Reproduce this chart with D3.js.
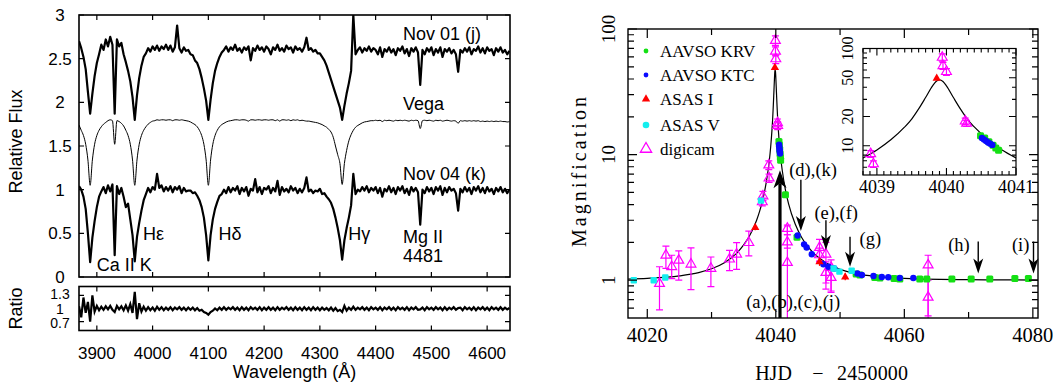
<!DOCTYPE html>
<html>
<head>
<meta charset="utf-8">
<script src="https://cdn.jsdelivr.net/npm/d3@7"></script>
<style>
  body { margin: 0; background: #fff; }
  svg { display: block; }
  .sans { font-family: 'Liberation Sans', Arial, Helvetica, sans-serif; }
  .serif { font-family: 'Liberation Serif', 'Times New Roman', serif; }
</style>
</head>
<body>
<svg id="chart" width="1053" height="383"></svg>
<script>
// ---------------- left panel: spectra ----------------
const waveStart = 3868; // first sample, Å
const waveStep = 4;     // sampling, Å

const nov01Flux = [
  2.70,2.62,2.52,2.38,2.12,1.87,2.10,2.30,2.45,2.55,
  2.66,2.60,2.72,2.64,2.75,2.66,1.87,2.72,2.64,2.68,
  2.55,2.46,2.36,2.24,2.06,1.80,2.08,2.28,2.42,2.52,
  2.56,2.62,2.58,2.64,2.60,2.65,2.59,2.64,2.61,2.66,
  2.60,2.65,2.58,2.63,2.88,2.62,2.57,2.63,2.59,2.60,
  2.55,2.54,2.48,2.45,2.38,2.28,2.16,2.02,1.80,2.03,
  2.22,2.36,2.45,2.52,2.57,2.60,2.64,2.58,2.63,2.60,
  2.66,2.59,2.62,2.57,2.63,2.60,2.64,2.48,2.62,2.59,
  2.65,2.60,2.63,2.58,2.64,2.61,2.55,2.63,2.60,2.66,
  2.59,2.62,2.58,2.65,2.61,2.63,2.57,2.64,2.60,2.62,
  2.58,2.63,2.74,2.60,2.62,2.58,2.60,2.56,2.56,2.52,
  2.48,2.42,2.34,2.26,2.18,2.10,2.02,1.94,1.80,1.96,
  2.10,2.22,2.36,3.00,2.55,2.60,2.63,2.57,2.62,2.59,
  2.64,2.58,2.62,2.60,2.55,2.63,2.52,2.61,2.58,2.63,
  2.57,2.61,2.54,2.62,2.59,2.64,2.56,2.61,2.53,2.62,
  2.58,2.63,2.57,2.20,2.60,2.55,2.62,2.58,2.63,2.54,
  2.61,2.57,2.63,2.52,2.61,2.58,2.62,2.56,2.60,2.55,
  2.35,2.60,2.57,2.62,2.58,2.63,2.55,2.61,2.59,2.64,
  2.57,2.62,2.56,2.63,2.59,2.61,2.54,2.62,2.58,2.63,
  2.57,2.60,2.55,2.59
];

const vegaFlux = [
  1.74,1.68,1.62,1.52,1.34,1.05,1.34,1.52,1.62,1.68,
  1.72,1.75,1.77,1.79,1.80,1.79,1.52,1.79,1.78,1.76,
  1.73,1.68,1.62,1.52,1.34,1.05,1.34,1.52,1.62,1.68,
  1.72,1.75,1.77,1.785,1.79,1.80,1.795,1.80,1.80,1.795,
  1.80,1.80,1.79,1.80,1.80,1.795,1.80,1.795,1.79,1.785,
  1.775,1.76,1.745,1.72,1.68,1.62,1.52,1.34,1.05,1.34,
  1.52,1.62,1.68,1.72,1.745,1.76,1.775,1.785,1.79,1.795,
  1.80,1.80,1.795,1.80,1.80,1.795,1.785,1.80,1.80,1.795,
  1.80,1.80,1.795,1.80,1.80,1.795,1.80,1.80,1.79,1.80,
  1.785,1.80,1.80,1.795,1.80,1.79,1.80,1.795,1.80,1.79,
  1.795,1.79,1.785,1.785,1.78,1.775,1.77,1.765,1.755,1.745,
  1.73,1.715,1.69,1.66,1.60,1.50,1.40,1.30,1.06,1.30,
  1.45,1.56,1.63,1.68,1.715,1.735,1.75,1.765,1.775,1.78,
  1.785,1.79,1.79,1.795,1.79,1.795,1.78,1.795,1.79,1.795,
  1.79,1.785,1.795,1.79,1.795,1.79,1.795,1.79,1.785,1.795,
  1.79,1.795,1.79,1.70,1.79,1.795,1.79,1.795,1.79,1.785,
  1.795,1.79,1.795,1.785,1.79,1.795,1.79,1.785,1.79,1.785,
  1.76,1.79,1.785,1.79,1.785,1.79,1.785,1.79,1.785,1.79,
  1.78,1.785,1.78,1.785,1.78,1.785,1.78,1.785,1.78,1.785,
  1.78,1.78,1.775,1.78
];

const nov04Flux = [
  1.04,1.00,0.92,0.78,0.50,0.17,0.45,0.64,0.80,0.92,
  0.98,1.03,0.96,1.05,0.98,1.06,0.25,1.04,0.95,1.02,
  0.92,0.80,0.84,0.66,0.48,0.18,0.46,0.62,0.76,0.88,
  0.95,1.02,0.97,1.03,1.00,1.18,1.02,1.05,0.98,1.03,
  0.99,1.04,0.97,1.03,1.00,1.04,0.96,1.02,0.98,0.99,
  0.99,0.96,0.97,0.93,0.88,0.80,0.68,0.48,0.19,0.48,
  0.66,0.78,0.86,0.93,0.95,1.00,0.96,1.03,0.97,1.02,
  0.99,1.04,0.95,1.02,0.98,1.03,0.93,1.01,0.99,1.12,
  0.97,1.03,0.95,1.02,1.00,1.04,0.96,1.02,0.98,1.10,
  0.94,1.03,0.98,1.01,0.97,1.04,0.99,1.02,0.96,1.01,
  0.97,1.02,1.14,0.98,1.00,0.96,0.99,0.98,1.01,0.95,
  0.96,0.92,0.89,0.85,0.78,0.68,0.56,0.42,0.20,0.42,
  0.56,0.68,0.82,1.18,0.95,1.00,0.98,1.03,0.99,1.04,
  0.97,1.02,0.99,1.03,0.96,1.02,0.92,1.01,0.98,1.04,
  0.97,1.02,0.95,1.03,0.99,1.04,0.96,1.01,0.94,1.03,
  0.98,1.02,0.97,0.60,1.00,0.96,1.03,0.98,1.02,0.95,
  1.03,0.99,1.04,0.94,1.02,0.97,1.03,0.99,1.01,0.96,
  0.76,1.01,0.97,1.03,0.98,1.02,0.95,1.03,0.99,1.04,
  0.97,1.02,0.96,1.03,0.98,1.01,0.95,1.02,0.98,1.03,
  0.97,1.01,0.96,1.00
];

const ratioFlux = [
  1.05,0.80,1.25,0.90,1.15,0.70,1.30,0.93,1.06,0.96,
  1.04,0.97,1.05,0.98,1.06,0.97,0.92,1.06,0.98,1.05,
  0.96,1.07,0.95,1.10,0.90,1.38,0.76,1.12,0.93,1.04,
  0.95,1.03,0.96,1.02,0.95,1.04,0.97,1.03,0.96,1.02,
  0.97,1.03,0.96,1.02,0.98,1.03,0.97,1.02,0.96,1.02,
  0.97,1.02,0.96,1.01,0.95,0.97,0.92,0.90,0.86,0.92,
  0.95,1.00,0.96,1.02,0.97,1.03,0.97,1.02,0.98,1.03,
  0.97,1.02,0.96,1.03,0.97,1.02,0.96,1.03,0.98,1.02,
  0.97,1.03,0.96,1.02,0.97,1.03,0.97,1.02,0.96,1.03,
  0.97,1.02,0.98,1.03,0.97,1.02,0.96,1.03,0.97,1.02,
  0.96,1.03,0.97,1.02,0.96,1.03,0.97,1.02,0.96,1.02,
  0.97,1.01,0.96,1.02,0.95,1.01,0.94,0.97,0.92,1.06,
  0.95,1.02,0.97,1.04,0.97,1.02,0.98,1.03,0.97,1.02,
  0.96,1.03,0.98,1.02,0.97,1.03,0.96,1.02,0.98,1.03,
  0.97,1.02,0.96,1.03,0.98,1.02,0.97,1.03,0.96,1.02,
  0.98,1.03,0.97,0.98,1.02,0.96,1.03,0.98,1.02,0.97,
  1.03,0.98,1.02,0.96,1.03,0.97,1.02,0.98,1.03,0.97,
  1.01,1.02,0.96,1.03,0.98,1.02,0.97,1.03,0.96,1.02,
  0.98,1.03,0.97,1.02,0.96,1.03,0.98,1.02,0.97,1.03,
  0.97,1.02,0.98,1.01
];

const waveTicks = [3900, 4000, 4100, 4200, 4300, 4400, 4500, 4600];
const fluxTicks = [0, 0.5, 1, 1.5, 2, 2.5, 3];
const ratioTicks = [0.7, 1, 1.3];
const ratioTickLabels = ['0.7', '1', '1.3'];

// annotation text and anchor point (wavelength, flux)
const specLabelText = ['Nov 01 (j)', 'Vega', 'Nov 04 (k)', 'Ca II K', 'Hε', 'Hδ', 'Hγ', 'Mg II', '4481'];
const specLabelWave = [4449, 4449, 4449, 3900, 3983, 4118, 4351, 4449, 4449];
const specLabelFlux = [2.71, 1.91, 1.11, 0.07, 0.42, 0.42, 0.42, 0.386, 0.175];

// ---------------- right panel: light curve ----------------
const modelT = [4017, 4020, 4025, 4028, 4030, 4032, 4034, 4035, 4036, 4037, 4037.5, 4038, 4038.5, 4038.8,
  4039, 4039.2, 4039.4, 4039.5, 4039.6, 4039.7, 4039.8, 4039.85, 4039.9, 4039.95, 4040, 4040.1, 4040.2,
  4040.3, 4040.4, 4040.6, 4040.8, 4041, 4041.5, 4042, 4043, 4044, 4045, 4046, 4048, 4050, 4052, 4055,
  4060, 4070, 4080.8];
const modelA = [1.022, 1.035, 1.082, 1.149, 1.232, 1.378, 1.66, 1.91, 2.30, 2.99, 3.56, 4.43, 5.95, 7.5,
  9.05, 11.5, 15.6, 18.8, 23.9, 31.3, 41.3, 45.8, 47.6, 45.8, 41.3, 31.3, 23.9,
  18.8, 15.6, 11.5, 9.05, 7.5, 5.22, 4.03, 2.81, 2.2, 1.85, 1.62, 1.36, 1.22, 1.14, 1.08,
  1.034, 1.009, 1.003];

const krvT = [4040.49, 4040.55, 4040.61, 4040.67, 4040.71, 4040.75, 4041.5, 4043.3, 4052.5, 4053.1, 4055.4,
  4056.2, 4058.4, 4059.3, 4062.4, 4063.5, 4067.4, 4070.4, 4073.3, 4077.2, 4079.3];
const krvA = [12.7, 12.0, 11.0, 10.1, 9.5, 9.0, 4.8, 2.2, 1.12, 1.10, 1.05,
  1.04, 1.03, 1.02, 1.02, 1.02, 1.02, 1.02, 1.02, 1.03, 1.03];

const ktcT = [4040.51, 4040.54, 4040.57, 4040.60, 4040.63, 4040.66, 4043.4, 4044.4, 4044.8, 4045.6, 4047.4,
  4048.2, 4049.1, 4052.7, 4053.4, 4055.2, 4056.5, 4057.5, 4059.3, 4061.4];
const ktcA = [12.0, 11.6, 11.2, 10.8, 10.5, 10.2, 2.27, 1.93, 1.82, 1.61, 1.34,
  1.28, 1.24, 1.13, 1.10, 1.08, 1.06, 1.055, 1.04, 1.04];

const asasIT = [4036.8, 4039.86, 4046.8, 4050.8];
const asasIA = [2.62, 49.3, 1.40, 1.06];
const asasILo = [2.5, 47, 1.3, 1.0];
const asasIHi = [2.75, 51.5, 1.52, 1.13];

const asasVT = [4017.9, 4021.0, 4022.8, 4037.7, 4049.0, 4049.9, 4051.8];
const asasVA = [1.0, 1.0, 1.05, 4.3, 1.24, 1.17, 1.19];

const digiT = [4021.9, 4022.9, 4023.8, 4024.9, 4026.8, 4029.9, 4032.8, 4033.9, 4035.8, 4037.9, 4038.0,
  4038.91, 4038.95, 4039.94, 4039.95, 4040.0, 4040.27, 4040.29, 4041.8, 4041.8, 4041.8,
  4046.8, 4046.8, 4047.8, 4047.8, 4048.6, 4048.6, 4063.7, 4063.7];
const digiA = [0.94, 1.58, 1.28, 1.44, 1.34, 1.24, 1.47, 1.61, 1.99, 4.2, 4.67,
  8.26, 6.5, 81, 66.5, 57.8, 17.9, 17.0, 2.58, 2.01, 1.38,
  1.82, 1.59, 1.61, 1.15, 1.26, 1.05, 1.32, 0.73];
const digiLo = [0.58, 1.24, 1.03, 1.0, 0.84, 0.89, 1.19, 1.22, 1.56, 3.9, 4.3,
  7.6, 6.0, 74, 61, 53, 16.6, 15.8, 2.3, 1.8, 0.3,
  1.42, 1.4, 0.85, 0.95, 0.82, 0.8, 0.52, 0.3];
const digiHi = [1.28, 1.87, 1.58, 1.71, 1.81, 1.53, 1.73, 1.99, 2.46, 4.5, 5.1,
  8.9, 7.0, 88, 72, 62, 19.2, 18.2, 2.75, 2.3, 2.7,
  2.11, 1.8, 2.0, 1.4, 1.45, 1.3, 1.58, 1.0];

const legendNames = ['AAVSO KRV', 'AAVSO KTC', 'ASAS I', 'ASAS V', 'digicam'];

// epoch arrows: time, start and end magnification, label and label anchor
const arrowT = [4040.65, 4043.9, 4047.8, 4051.55, 4071.5, 4080.1];
const arrowFrom = [0.5, 6.3, 3.0, 2.22, 2.03, 2.03];
const arrowTo = [7.5, 2.46, 1.74, 1.28, 1.13, 1.13];
const arrowText = ['(a),(b),(c),(j)', '(d),(k)', '(e),(f)', '(g)', '(h)', '(i)'];
const arrowTextT = [4042.7, 4045.8, 4049.4, 4054.7, 4068.5, 4078.1];
const arrowTextA = [0.67, 7.54, 3.43, 2.13, 1.91, 1.91];

const hjdTicks = [4020, 4040, 4060, 4080];
const hjdMinor = [4030, 4050, 4070];
const magTicks = [1, 10, 100];
const magMinor = [0.6, 0.7, 0.8, 0.9, 2, 3, 4, 5, 6, 7, 8, 9, 20, 30, 40, 50, 60, 70, 80, 90];
const insetTicks = [4039, 4040, 4041];
const insetMagTicks = [10, 20, 50, 100];
const insetMagMinor = [6, 7, 8, 9, 30, 40, 60, 70, 80, 90];

// ====================================================
const svg = d3.select('#chart');
const wave = nov01Flux.map((d, i) => waveStart + i * waveStep);

const xW = d3.scaleLinear().domain([3868, 4641]).range([79, 510]);
const yF = d3.scaleLinear().domain([0, 3]).range([277, 15]);
const yR = d3.scaleLinear().domain([0.5, 1.5]).range([330.5, 286.5]);

const defs = svg.append('defs');
function addClip(id, x, y, w, h) {
  defs.append('clipPath').attr('id', id).append('rect')
    .attr('x', x).attr('y', y).attr('width', w).attr('height', h);
}
addClip('clipFlux', 79, 15, 431, 262);
addClip('clipRatio', 79, 286.5, 431, 44);
addClip('clipMain', 628, 29, 410, 289);
addClip('clipInset', 863, 48.5, 153, 126.5);

function tickPaths(g, vals, fn, w) {
  g.append('path')
    .attr('d', vals.map(fn).join(''))
    .attr('stroke', '#000').attr('stroke-width', w || 1).attr('fill', 'none');
}

const left = svg.append('g').attr('class', 'sans');

// spectra
const fluxG = left.append('g').attr('clip-path', 'url(#clipFlux)');
const lineOf = (ys, curve) => d3.line().x((d, i) => xW(wave[i])).y(d => ys(d)).curve(curve || d3.curveLinear);
fluxG.append('path').attr('d', lineOf(yF, d3.curveMonotoneX)(vegaFlux))
  .attr('fill', 'none').attr('stroke', '#000').attr('stroke-width', 1);
fluxG.append('path').attr('d', lineOf(yF)(nov01Flux))
  .attr('fill', 'none').attr('stroke', '#000').attr('stroke-width', 2.2).attr('stroke-linejoin', 'round');
fluxG.append('path').attr('d', lineOf(yF)(nov04Flux))
  .attr('fill', 'none').attr('stroke', '#000').attr('stroke-width', 2.2).attr('stroke-linejoin', 'round');

left.append('g').attr('clip-path', 'url(#clipRatio)')
  .append('path').attr('d', lineOf(yR)(ratioFlux))
  .attr('fill', 'none').attr('stroke', '#000').attr('stroke-width', 2.2);

// frames
left.append('rect').attr('x', 79).attr('y', 15).attr('width', 431).attr('height', 262)
  .attr('fill', 'none').attr('stroke', '#000').attr('stroke-width', 1.6);
left.append('rect').attr('x', 79).attr('y', 286.5).attr('width', 431).attr('height', 44)
  .attr('fill', 'none').attr('stroke', '#000').attr('stroke-width', 1.6);

// ticks (inward)
tickPaths(left, waveTicks, v => `M${xW(v)},15v5M${xW(v)},277v-5M${xW(v)},286.5v5M${xW(v)},330.5v-5`, 1.2);
tickPaths(left, fluxTicks, v => `M79,${yF(v)}h5M510,${yF(v)}h-5`, 1.2);
tickPaths(left, [0.7, 1.3], v => `M79,${yR(v)}h5M510,${yR(v)}h-5`, 1.2);

left.selectAll(null).data(fluxTicks).join('text')
  .attr('x', 60).attr('y', d => yF(d)).attr('dy', '0.36em')
  .attr('text-anchor', 'middle').attr('font-size', 17).text(d => d);
// ratio labels are tightly packed in the original; keep them small
const ratioLabelY = [323, 308.5, 294];
left.selectAll(null).data(ratioTicks).join('text')
  .attr('x', 60).attr('y', (d, i) => ratioLabelY[i]).attr('dy', '0.36em')
  .attr('text-anchor', 'middle').attr('font-size', 14).text((d, i) => ratioTickLabels[i]);
left.selectAll(null).data(waveTicks).join('text')
  .attr('x', d => xW(d)).attr('y', 359)
  .attr('text-anchor', 'middle').attr('font-size', 17).text(d => d);

left.append('text').attr('x', 294.5).attr('y', 378).attr('text-anchor', 'middle')
  .attr('font-size', 18).text('Wavelength (Å)');
left.append('text').attr('transform', 'translate(22,141.5) rotate(-90)').attr('text-anchor', 'middle')
  .attr('font-size', 18).text('Relative Flux');
left.append('text').attr('transform', 'translate(22,308.5) rotate(-90)').attr('text-anchor', 'middle')
  .attr('font-size', 18).text('Ratio');

left.selectAll(null).data(specLabelText).join('text')
  .attr('x', (d, i) => xW(specLabelWave[i])).attr('y', (d, i) => yF(specLabelFlux[i]))
  .attr('font-size', 18).text(d => d);

// ---------------- right panel ----------------
const xT = d3.scaleLinear().domain([4017, 4080.8]).range([628, 1038]);
const yA = d3.scaleLog().domain([0.5, 100]).range([318, 29]);
const xI = d3.scaleLinear().domain([4038.8, 4041]).range([863, 1016]);
const yI = d3.scaleLog().domain([5, 100]).range([175, 48.5]);

const right = svg.append('g').attr('class', 'serif');

const cGreen = '#14e014', cBlue = '#0a0aff', cRed = '#ff0000', cCyan = '#14eeee', cMag = '#ff00ff';

function drawData(g, sx, sy) {
  g.append('path')
    .attr('d', d3.line().x((d, i) => sx(modelT[i])).y(d => sy(d)).curve(d3.curveMonotoneX)(modelA))
    .attr('fill', 'none').attr('stroke', '#000').attr('stroke-width', 1.2);
  // digicam error bars
  g.selectAll(null).data(digiT).join('path')
    .attr('d', (t, i) => {
      const x = sx(t), y0 = sy(digiLo[i]), y1 = sy(digiHi[i]);
      return `M${x},${y0}V${y1}M${x - 3.5},${y0}h7M${x - 3.5},${y1}h7`;
    })
    .attr('stroke', cMag).attr('stroke-width', 1.2).attr('fill', 'none');
  g.selectAll(null).data(asasIT).join('path')
    .attr('d', (t, i) => `M${sx(t)},${sy(asasILo[i])}V${sy(asasIHi[i])}`)
    .attr('stroke', cRed).attr('stroke-width', 1.2);
  g.selectAll(null).data(digiT).join('path')
    .attr('transform', (t, i) => `translate(${sx(t)},${sy(digiA[i])})`)
    .attr('d', d3.symbol(d3.symbolTriangle, 42))
    .attr('fill', 'none').attr('stroke', cMag).attr('stroke-width', 1.2);
  g.selectAll(null).data(krvT).join('rect')
    .attr('x', t => sx(t) - 3.5).attr('y', (t, i) => sy(krvA[i]) - 3.5)
    .attr('width', 7).attr('height', 7).attr('rx', 1.5).attr('fill', cGreen);
  g.selectAll(null).data(ktcT).join('circle')
    .attr('cx', t => sx(t)).attr('cy', (t, i) => sy(ktcA[i])).attr('r', 3.2).attr('fill', cBlue);
  g.selectAll(null).data(asasVT).join('rect')
    .attr('x', t => sx(t) - 3.2).attr('y', (t, i) => sy(asasVA[i]) - 3.2)
    .attr('width', 6.4).attr('height', 6.4).attr('rx', 1).attr('fill', cCyan);
  g.selectAll(null).data(asasIT).join('path')
    .attr('transform', (t, i) => `translate(${sx(t)},${sy(asasIA[i])})`)
    .attr('d', d3.symbol(d3.symbolTriangle, 30)).attr('fill', cRed);
}

drawData(right.append('g').attr('clip-path', 'url(#clipMain)'), xT, yA);

// main frame + ticks
right.append('rect').attr('x', 628).attr('y', 29).attr('width', 410).attr('height', 289)
  .attr('fill', 'none').attr('stroke', '#000').attr('stroke-width', 1.4);
tickPaths(right, hjdTicks, v => `M${xT(v)},318v-9M${xT(v)},29v9`, 1.2);
tickPaths(right, hjdMinor, v => `M${xT(v)},318v-6M${xT(v)},29v6`, 1.2);
tickPaths(right, magTicks, v => `M628,${yA(v)}h9M1038,${yA(v)}h-9`, 1.2);
tickPaths(right, magMinor, v => `M628,${yA(v)}h6M1038,${yA(v)}h-6`, 1.2);

right.selectAll(null).data(hjdTicks).join('text')
  .attr('x', d => xT(d)).attr('y', 341.5).attr('text-anchor', 'middle')
  .attr('font-size', 20.5).text(d => d);
right.selectAll(null).data(magTicks).join('text')
  .attr('transform', d => `translate(615,${yA(d)}) rotate(-90)`).attr('text-anchor', 'middle')
  .attr('font-size', 19).text(d => d);

right.append('text').attr('transform', 'translate(586,172) rotate(-90)').attr('text-anchor', 'middle')
  .attr('font-size', 20).attr('textLength', 150).attr('lengthAdjust', 'spacing').text('Magnification');
const hjdLabel = right.append('g').attr('font-size', 20).attr('text-anchor', 'middle');
hjdLabel.append('text').attr('x', 773.5).attr('y', 380).text('HJD');
hjdLabel.append('text').attr('x', 818).attr('y', 380).text('−');
hjdLabel.append('text').attr('x', 872.5).attr('y', 380).attr('textLength', 71).text('2450000');

// legend
const legend = right.append('g');
const legY = [51, 75, 99, 125, 149];
legend.selectAll(null).data(legendNames).join('text')
  .attr('x', 660).attr('y', (d, i) => legY[i]).attr('dy', '0.35em')
  .attr('font-size', 17).text(d => d);
legend.append('circle').attr('cx', 646).attr('cy', legY[0]).attr('r', 2.4).attr('fill', cGreen);
legend.append('circle').attr('cx', 646).attr('cy', legY[1]).attr('r', 2.4).attr('fill', cBlue);
legend.append('path').attr('transform', `translate(646,${legY[2]})`)
  .attr('d', d3.symbol(d3.symbolTriangle, 30)).attr('fill', cRed);
legend.append('circle').attr('cx', 646).attr('cy', legY[3]).attr('r', 3.3).attr('fill', cCyan);
legend.append('path').attr('transform', `translate(646,${legY[4]})`)
  .attr('d', d3.symbol(d3.symbolTriangle, 55)).attr('fill', 'none').attr('stroke', cMag).attr('stroke-width', 1.3);

// epoch arrows
const arrows = right.append('g');
arrowT.forEach((t, i) => {
  const x = xT(t), y0 = yA(arrowFrom[i]), y1 = yA(arrowTo[i]);
  const up = y1 < y0;
  const big = i === 0;
  const hw = big ? 6.5 : 5, hl = big ? 18 : 15, notch = big ? 13 : 11;
  const s = up ? 1 : -1;
  arrows.append('path').attr('d', `M${x},${y0}V${y1 + s * notch}`)
    .attr('stroke', '#000').attr('stroke-width', big ? 3.2 : 1.4);
  arrows.append('path')
    .attr('d', `M${x},${y1}L${x - hw},${y1 + s * hl}L${x},${y1 + s * notch}L${x + hw},${y1 + s * hl}Z`)
    .attr('fill', '#000');
});
arrows.selectAll(null).data(arrowText).join('text')
  .attr('x', (d, i) => xT(arrowTextT[i])).attr('y', (d, i) => yA(arrowTextA[i])).attr('dy', '0.33em')
  .attr('text-anchor', 'middle').attr('font-size', 18.5).text(d => d);

// inset
const inset = right.append('g');
inset.append('rect').attr('x', 863).attr('y', 48.5).attr('width', 153).attr('height', 126.5).attr('fill', '#fff');
drawData(inset.append('g').attr('clip-path', 'url(#clipInset)'), xI, yI);
inset.append('rect').attr('x', 863).attr('y', 48.5).attr('width', 153).attr('height', 126.5)
  .attr('fill', 'none').attr('stroke', '#000').attr('stroke-width', 1.2);
const insetMinorX = d3.range(4038.8, 4041.001, 0.1).filter(v => Math.abs(v - Math.round(v)) > 0.01);
tickPaths(inset, insetTicks, v => `M${xI(v)},175v-7M${xI(v)},48.5v7`, 1.1);
tickPaths(inset, insetMinorX, v => `M${xI(v)},175v-4M${xI(v)},48.5v4`, 1.1);
tickPaths(inset, insetMagTicks, v => `M863,${yI(v)}h7M1016,${yI(v)}h-7`, 1.1);
tickPaths(inset, insetMagMinor, v => `M863,${yI(v)}h4M1016,${yI(v)}h-4`, 1.1);
inset.selectAll(null).data(insetTicks).join('text')
  .attr('x', d => xI(d)).attr('y', 193).attr('text-anchor', 'middle')
  .attr('font-size', 18).text(d => d);
inset.selectAll(null).data(insetMagTicks).join('text')
  .attr('transform', d => `translate(853,${yI(d)}) rotate(-90)`).attr('text-anchor', 'middle')
  .attr('font-size', 16).text(d => d);
</script>
</body>
</html>
